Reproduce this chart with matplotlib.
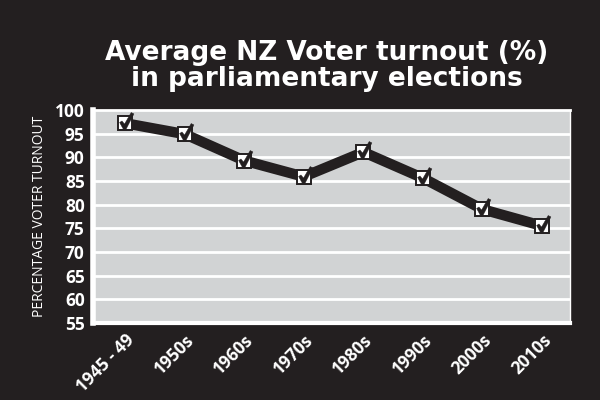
import matplotlib
matplotlib.use("Agg")
import matplotlib.pyplot as plt
from matplotlib.path import Path

# average voter turnout per decade
decades = ["1945 - 49", "1950s", "1960s", "1970s", "1980s", "1990s", "2000s", "2010s"]
turnout = [97.2, 94.9, 89.3, 85.9, 91.1, 85.6, 79.0, 75.5]
yticks = [55, 60, 65, 70, 75, 80, 85, 90, 95, 100]

bg = "#231f20"
panel = "#d1d3d4"

# check mark shape, px around the box centre
check = Path([(-6.0, 1.0), (-3.6, 2.6), (-1.0, -0.6), (5.8, 11.2), (8.6, 9.8),
	(0.6, -5.8), (-2.2, -5.8), (-6.0, 1.0)], closed=True)

fig = plt.figure(figsize=(6, 4), dpi=100, facecolor=bg)
ax = fig.add_axes([0.155, 0.193, 0.795, 0.532])
ax.set_facecolor(panel)

x = list(range(len(decades)))
for y in yticks[1:-1]:
	ax.axhline(y, color="white", lw=2, zorder=1)

ax.plot(x, turnout, color=bg, lw=7.5, zorder=2, solid_capstyle="butt")
ax.plot(x, turnout, ls="none", marker="s", ms=10, mfc="white", mec=bg, mew=1.4, zorder=3)
ax.plot(x, turnout, ls="none", marker=check, ms=15.8, mfc=bg, mec=bg, mew=0.3, zorder=4)

ax.set_xlim(-0.54, 7.47)
ax.set_ylim(55, 100)
ax.set_yticks(yticks)
ax.set_xticks(x)
ax.set_xticklabels(decades, rotation=45, ha="right", rotation_mode="anchor")
ax.tick_params(length=0, colors="white", labelsize=12.5, pad=6)
for lab in ax.get_xticklabels() + ax.get_yticklabels():
	lab.set_fontfamily("Open Sans")
	lab.set_fontweight("bold")

for side, w in [("left", 4), ("bottom", 3), ("top", 2), ("right", 1)]:
	ax.spines[side].set_color("white")
	ax.spines[side].set_linewidth(w)

ax.set_ylabel("PERCENTAGE VOTER TURNOUT", color="white", fontsize=10,
	family="Open Sans", labelpad=6)

fig.text(0.545, 0.835, "Average NZ Voter turnout (%)\nin parliamentary elections",
	ha="center", va="center", color="white", fontsize=19, fontweight="bold",
	family="DejaVu Sans", linespacing=1.0)

fig.savefig("out.png", dpi=100, facecolor=bg)
